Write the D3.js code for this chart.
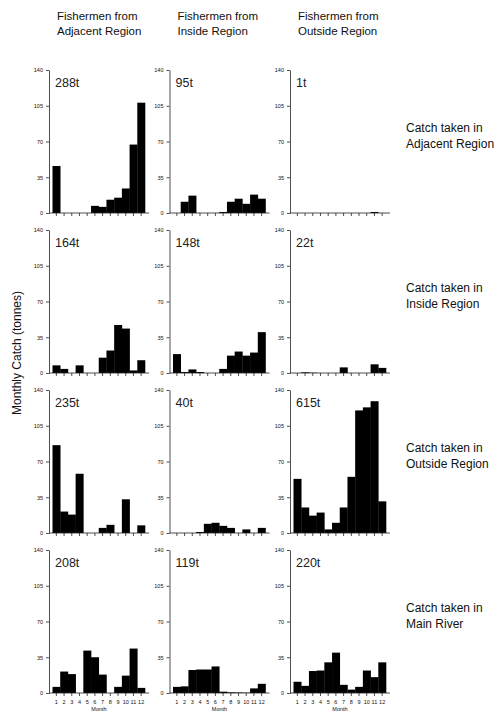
<!DOCTYPE html>
<html>
<head>
<meta charset="utf-8">
<script src="https://cdn.jsdelivr.net/npm/d3@7"></script>
<style>
  body { margin: 0; background: #fff; }
  svg { display: block; font-family: "Liberation Sans", Arial, sans-serif; }
  .tick text { font-size: 5.5px; fill: #111; }
  .tick line, .domain { stroke: #222; stroke-width: 0.8; }
</style>
</head>
<body>
<svg id="chart" width="500" height="720"></svg>
<script>
// values, tonnes per month
const months = [1,2,3,4,5,6,7,8,9,10,11,12];
const yTicks = [0,35,70,105,140];
const fishermen = [["Fishermen from","Adjacent Region"],["Fishermen from","Inside Region"],["Fishermen from","Outside Region"]];
const regions = [["Catch taken in","Adjacent Region"],["Catch taken in","Inside Region"],["Catch taken in","Outside Region"],["Catch taken in","Main River"]];
const totals = [["288t","95t","1t"],["164t","148t","22t"],["235t","40t","615t"],["208t","119t","220t"]];

const catchAdjacent = [
  [46,0,0,0,0,7,6,13,15,24,67,108],
  [0,11,17,0,0,0,1,11,14,9,18,14],
  [0,0,0,0,0,0,0,0,0,0,1,0]
];
const catchInside = [
  [7.5,4,0,7.5,0,0,15,22,47,43.5,2.5,12.5],
  [18.5,1,3.5,1,0,0,4,17,21,17,20,40],
  [0,0.7,0.3,0,0,0,5.5,0,0,0,8.5,5]
];
const catchOutside = [
  [86,21,18,58,0,0,5,8,0,33,0,7.5],
  [0,0,0,1,9,10,7,5,0,3.5,0,5],
  [53,25,17,20,3.5,10,25,55,120,123,129,31]
];
const catchRiver = [
  [6,21,18.5,0,41.5,35,18,0,6,17,43.5,5],
  [6,6.5,22.5,23,23,26,1.3,0.7,0.5,0.3,4.5,9],
  [11,7,21.5,22,30,39.5,8,3.3,6,22,15.5,30]
];
const allRows = [catchAdjacent, catchInside, catchOutside, catchRiver];

const svg = d3.select('#chart');
const plotH = 143;
const axisW = 100;

function colX(j){ return 49 + j * 120.5; }
function rowTop(i){ return 70 + i * 160; }

// column headers
fishermen.forEach((lines, j) => {
  const t = svg.append('text')
    .attr('x', colX(j) + 8)
    .attr('y', 20)
    .style('font-size', '11.5px')
    .attr('fill', '#111');
  lines.forEach((l, k) => {
    t.append('tspan').attr('x', colX(j) + 8).attr('dy', k === 0 ? 0 : 15).text(l);
  });
});

// row labels on the right
regions.forEach((lines, i) => {
  const t = svg.append('text')
    .attr('x', 406)
    .attr('y', rowTop(i) + 62)
    .style('font-size', '12px')
    .attr('fill', '#111');
  lines.forEach((l, k) => {
    t.append('tspan').attr('x', 406).attr('dy', k === 0 ? 0 : 15.5).text(l);
  });
});

// y title
svg.append('text')
  .attr('transform', 'translate(21,353) rotate(-90)')
  .attr('text-anchor', 'middle')
  .style('font-size', '12px')
  .attr('fill', '#111')
  .text('Monthly Catch (tonnes)');

allRows.forEach((row, i) => {
  row.forEach((vals, j) => {
    const x0 = colX(j);
    const top = rowTop(i);
    const x = d3.scaleBand().domain(months).range([x0 + 3.5, x0 + 96]).padding(0);
    const y = d3.scaleLinear().domain([0, 140]).range([top + plotH, top]);
    const g = svg.append('g');

    g.selectAll('rect')
      .data(vals)
      .enter()
      .append('rect')
      .attr('x', (d, k) => x(months[k]))
      .attr('width', x.bandwidth() + 0.3)
      .attr('y', d => y(d))
      .attr('height', d => y(0) - y(d))
      .attr('fill', '#000');

    const yAxis = g.append('g')
      .attr('transform', `translate(${x0},0)`)
      .call(d3.axisLeft(y).tickValues(yTicks).tickSize(3).tickPadding(3).tickSizeOuter(0));

    const xAxis = g.append('g')
      .attr('transform', `translate(0,${top + plotH})`)
      .call(d3.axisBottom(x).tickSize(3).tickPadding(4).tickSizeOuter(0));
    xAxis.select('.domain').remove();
    xAxis.append('line')
      .attr('x1', x0).attr('x2', x0 + axisW)
      .attr('stroke', '#222').attr('stroke-width', 0.8);
    if (i < 3) xAxis.selectAll('.tick text').remove();

    if (i === 3) {
      g.append('text')
        .attr('x', x0 + axisW / 2)
        .attr('y', top + plotH + 18)
        .attr('text-anchor', 'middle')
        .style('font-size', '5.5px')
        .attr('fill', '#111')
        .text('Month');
    }

    g.append('text')
      .attr('x', x0 + 6)
      .attr('y', top + 17)
      .style('font-size', '12.5px')
      .attr('fill', '#222')
      .text(totals[i][j]);
  });
});
</script>
</body>
</html>
